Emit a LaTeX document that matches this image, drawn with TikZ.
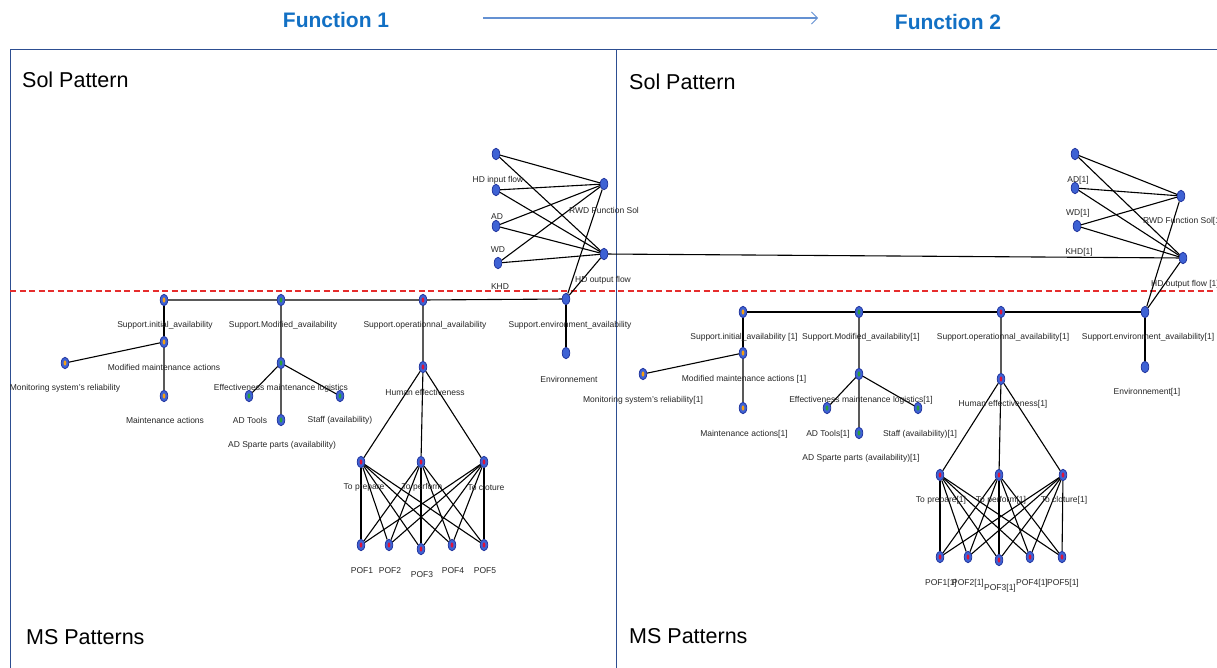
\documentclass[tikz,border=0pt]{standalone}
\usepackage{fontspec}
\setmainfont{Liberation Sans}
\usetikzlibrary{shapes.geometric,arrows.meta}
\definecolor{vfill}{RGB}{62,98,212}
\definecolor{vdraw}{RGB}{35,55,160}
\definecolor{framec}{RGB}{45,78,145}
\definecolor{titleblue}{RGB}{18,112,196}
\definecolor{arrowblue}{RGB}{100,145,210}
\definecolor{dashred}{RGB}{230,45,45}
\definecolor{dotorange}{RGB}{245,160,20}
\definecolor{dotgreen}{RGB}{40,160,60}
\definecolor{dotred}{RGB}{220,20,60}
\newcommand\lblfont{\fontsize{8.5}{10}\selectfont}
\newcommand\bigfont{\fontsize{21.5}{24}\selectfont}
\newcommand\titlefont{\fontsize{21}{24}\selectfont\bfseries}
\tikzset{
  vtx/.style={ellipse, minimum width=7.5pt, minimum height=11.5pt, inner sep=0pt, fill=vfill, draw=vdraw, line width=0.8pt},
  vo/.style={vtx, path picture={\fill[dotorange] (path picture bounding box.center) ellipse (1.4pt and 2.6pt);}},
  vg/.style={vtx, path picture={\fill[dotgreen] (path picture bounding box.center) ellipse (1.4pt and 2.6pt);}},
  vr/.style={vtx, path picture={\fill[dotred] (path picture bounding box.center) ellipse (1.4pt and 2.6pt);}},
  lbl/.style={font=\lblfont, inner sep=0pt, text=black!85},
  big/.style={font=\bigfont, inner sep=0pt, anchor=west, text=black},
  ttl/.style={font=\titlefont, inner sep=0pt, text=titleblue},
  link/.style={line width=1.1pt, black},
  glink/.style={line width=1.3pt, black!65},
  framel/.style={line width=1pt, framec},
}
\begin{document}
\begin{tikzpicture}[x=1pt,y=-1pt]
\useasboundingbox (0,0) rectangle (1217,668);
\begin{scope}
\clip (0,0) rectangle (1217,668);
% header
\node[ttl] (f1) at (336,20) {Function 1};
\node[ttl] (f2) at (948,22) {Function 2};
\coordinate (arS) at (483,18);
\coordinate (arE) at (818,18);
\draw[arrowblue, line width=1.2pt, -{Straight Barb[length=6pt,width=12pt,line width=0.8pt]}] (arS) -- (arE);
% frame
\coordinate (fTL) at (10,50);
\coordinate (fBL) at (10,668);
\coordinate (fTM) at (616,50);
\coordinate (fBM) at (616,668);
\coordinate (fTR) at (1217,50);
\draw[framel] (fBL) -- (fTL) -- (fTR);
\draw[framel] (fTM) -- (fBM);
\coordinate (dL) at (10,291);
\coordinate (dR) at (1217,291);
\draw[dashred, line width=1.3pt, dash pattern=on 6pt off 3.5pt] (dL) -- (dR);
\node[big] (sp1) at (22,80) {Sol Pattern};
\node[big] (sp2) at (629,82) {Sol Pattern};
\node[big] (ms1) at (26,637) {MS Patterns};
\node[big] (ms2) at (629,636) {MS Patterns};

% ===== left side nodes =====
\node[vtx] (aL1) at (496,154) {};
\node[vtx] (aL2) at (496,190) {};
\node[vtx] (aL3) at (496,226) {};
\node[vtx] (aL4) at (498,263) {};
\node[vtx] (aR1) at (604,184) {};
\node[vtx] (aR2) at (604,254) {};
\node[vo] (aSI) at (164,300) {};
\node[vg] (aSM) at (281,300) {};
\node[vr] (aSO) at (423,300) {};
\node[vtx] (aSE) at (566,299) {};
\node[vo] (aMM) at (164,342) {};
\node[vo] (aMon) at (65,363) {};
\node[vo] (aMA) at (164,396) {};
\node[vg] (aEff) at (281,363) {};
\node[vg] (aTools) at (249,396) {};
\node[vg] (aStaff) at (340,396) {};
\node[vg] (aSp) at (281,420) {};
\node[vr] (aHE) at (423,367) {};
\node[vr] (aTP) at (361,462) {};
\node[vr] (aTf) at (421,462) {};
\node[vr] (aTC) at (484,462) {};
\node[vr] (aP1) at (361,545) {};
\node[vr] (aP2) at (389,545) {};
\node[vr] (aP3) at (421,549) {};
\node[vr] (aP4) at (452,545) {};
\node[vr] (aP5) at (484,545) {};
\node[vtx] (aEnv) at (566,353) {};

% ===== right side nodes =====
\node[vtx] (bL1) at (1075,154) {};
\node[vtx] (bL2) at (1075,188) {};
\node[vtx] (bL3) at (1077,226) {};
\node[vtx] (bR1) at (1181,196) {};
\node[vtx] (bR2) at (1183,258) {};
\node[vo] (bSI) at (743,312) {};
\node[vg] (bSM) at (859,312) {};
\node[vr] (bSO) at (1001,312) {};
\node[vtx] (bSE) at (1145,312) {};
\node[vo] (bMM) at (743,353) {};
\node[vo] (bMon) at (643,374) {};
\node[vo] (bMA) at (743,408) {};
\node[vg] (bEff) at (859,374) {};
\node[vg] (bTools) at (827,408) {};
\node[vg] (bStaff) at (918,408) {};
\node[vg] (bSp) at (859,433) {};
\node[vr] (bHE) at (1001,379) {};
\node[vr] (bTP) at (940,475) {};
\node[vr] (bTf) at (999,475) {};
\node[vr] (bTC) at (1063,475) {};
\node[vr] (bP1) at (940,557) {};
\node[vr] (bP2) at (968,557) {};
\node[vr] (bP3) at (999,560) {};
\node[vr] (bP4) at (1030,557) {};
\node[vr] (bP5) at (1062,557) {};
\node[vtx] (bEnv) at (1145,367) {};

% ===== edges =====
\foreach \s in {a,b} {
  \draw[link] (\s SI) -- (\s SM) -- (\s SO) -- (\s SE);
  \draw[link] (\s SI) -- (\s MM);
  \draw[link] (\s MM) -- (\s Mon);
  \draw[glink] (\s MM) -- (\s MA);
  \draw[glink] (\s SM) -- (\s Eff);
  \draw[link] (\s Eff) -- (\s Tools);
  \draw[link] (\s Eff) -- (\s Staff);
  \draw[glink] (\s Eff) -- (\s Sp);
  \draw[glink] (\s SO) -- (\s HE);
  \draw[link] (\s HE) -- (\s TP);
  \draw[link] (\s HE) -- (\s Tf);
  \draw[link] (\s HE) -- (\s TC);
  \draw[link] (\s SE) -- (\s Env);
  \draw[link] (\s SE) -- (\s R1);
  \draw[link] (\s SE) -- (\s R2);
  \foreach \t in {TP,Tf,TC} {
    \foreach \p in {P1,P2,P3,P4,P5} {
      \draw[link] (\s\t) -- (\s\p);
    }
  }
  \foreach \l in {L1,L2,L3} {
    \draw[link] (\s\l) -- (\s R1);
    \draw[link] (\s\l) -- (\s R2);
  }
}
\draw[link] (aL4) -- (aR1);
\draw[link] (aL4) -- (aR2);
\draw[link] (aR2) -- (bR2);

% ===== left labels =====
\node[lbl] (taL1) at (498,180) {HD input flow};
\node[lbl] (taL2) at (497,217) {AD};
\node[lbl] (taL3) at (498,250) {WD};
\node[lbl] (taL4) at (500,287) {KHD};
\node[lbl] (taR1) at (604,210) {RWD Function Sol};
\node[lbl] (taR2) at (603,280) {HD output flow};
\node[lbl] (taSI) at (165,325) {Support.initial\_availability};
\node[lbl] (taSM) at (283,325) {Support.Modified\_availability};
\node[lbl] (taSO) at (425,325) {Support.operationnal\_availability};
\node[lbl] (taSE) at (570,325) {Support.environment\_availability};
\node[lbl] (taMM) at (164,367) {Modified maintenance actions};
\node[lbl] (taMon) at (65,388) {Monitoring system's reliability};
\node[lbl] (taMA) at (165,420) {Maintenance actions};
\node[lbl] (taEff) at (281,388) {Effectiveness maintenance logistics};
\node[lbl] (taTools) at (250,420) {AD Tools};
\node[lbl] (taStaff) at (340,420) {Staff (availability)};
\node[lbl] (taSp) at (282,445) {AD Sparte parts (availability)};
\node[lbl] (taHE) at (425,392) {Human effectiveness};
\node[lbl] (taEnv) at (569,379) {Environnement};
\node[lbl] (taTP) at (364,487) {To prepare};
\node[lbl] (taTf) at (422,487) {To perform};
\node[lbl] (taTC) at (486,487) {To cloture};
\node[lbl] (taP1) at (362,571) {POF1};
\node[lbl] (taP2) at (390,571) {POF2};
\node[lbl] (taP3) at (422,575) {POF3};
\node[lbl] (taP4) at (453,571) {POF4};
\node[lbl] (taP5) at (485,571) {POF5};

% ===== right labels =====
\node[lbl] (tbL1) at (1078,180) {AD[1]};
\node[lbl] (tbL2) at (1078,213) {WD[1]};
\node[lbl] (tbL3) at (1079,252) {KHD[1]};
\node[lbl, anchor=west] (tbR1) at (1143,221) {RWD Function Sol[1]};
\node[lbl, anchor=west] (tbR2) at (1151,284) {HD output flow [1]};
\node[lbl] (tbSI) at (744,337) {Support.initial\_availability [1]};
\node[lbl] (tbSM) at (861,337) {Support.Modified\_availability[1]};
\node[lbl] (tbSO) at (1003,337) {Support.operationnal\_availability[1]};
\node[lbl] (tbSE) at (1148,337) {Support.environment\_availability[1]};
\node[lbl] (tbMM) at (744,379) {Modified maintenance actions [1]};
\node[lbl] (tbMon) at (643,400) {Monitoring system's reliability[1]};
\node[lbl] (tbMA) at (744,434) {Maintenance actions[1]};
\node[lbl] (tbEff) at (861,400) {Effectiveness maintenance logistics[1]};
\node[lbl] (tbTools) at (828,434) {AD Tools[1]};
\node[lbl] (tbStaff) at (920,434) {Staff (availability)[1]};
\node[lbl] (tbSp) at (861,458) {AD Sparte parts (availability)[1]};
\node[lbl] (tbHE) at (1003,404) {Human effectiveness[1]};
\node[lbl] (tbEnv) at (1147,392) {Environnement[1]};
\node[lbl] (tbTP) at (941,500) {To prepare[1]};
\node[lbl] (tbTf) at (1001,500) {To perform[1]};
\node[lbl] (tbTC) at (1064,500) {To cloture[1]};
\node[lbl] (tbP1) at (941,583) {POF1[1]};
\node[lbl] (tbP2) at (968,583) {POF2[1]};
\node[lbl] (tbP3) at (1000,588) {POF3[1]};
\node[lbl] (tbP4) at (1032,583) {POF4[1]};
\node[lbl] (tbP5) at (1063,583) {POF5[1]};
\end{scope}
\end{tikzpicture}
\end{document}
